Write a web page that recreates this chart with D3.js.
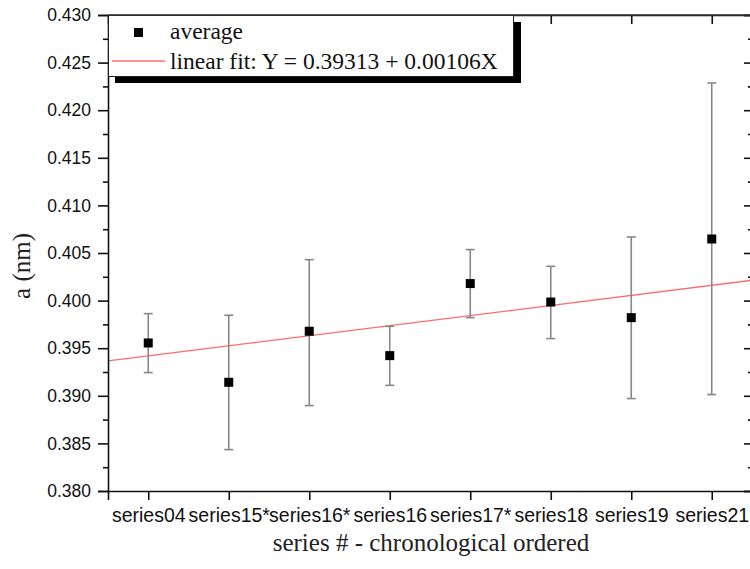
<!DOCTYPE html>
<html>
<head>
<meta charset="utf-8">
<script src="https://cdn.jsdelivr.net/npm/d3@7"></script>
<style>
  html, body { margin: 0; padding: 0; background: #fff; }
  svg { display: block; }
</style>
</head>
<body>
<svg id="chart" width="750" height="569"></svg>
<script>
// ---- data ----
const categories = ["series04", "series15*", "series16*", "series16", "series17*", "series18", "series19", "series21"];
const averages   = [0.39555, 0.39142, 0.39678, 0.39422, 0.40179, 0.39985, 0.39821, 0.40647];
const errUpper   = [0.39863, 0.39846, 0.40430, 0.39730, 0.40536, 0.40360, 0.40668, 0.42286];
const errLower   = [0.39244, 0.38435, 0.38897, 0.39110, 0.39821, 0.39601, 0.38971, 0.39013];
const fitIntercept = [0.39313];
const fitSlope     = [0.00106];
const yTicks = [0.380, 0.385, 0.390, 0.395, 0.400, 0.405, 0.410, 0.415, 0.420, 0.425, 0.430];
const yMinorTicks = [0.3825, 0.3875, 0.3925, 0.3975, 0.4025, 0.4075, 0.4125, 0.4175, 0.4225, 0.4275];
const legendLabels = ["average", "linear fit: Y = 0.39313 + 0.00106X"];

// ---- layout ----
const L = 108, R = 752, T = 15, B = 491;
const SANS = "'Liberation Sans', Arial, sans-serif";
const SERIF = "'Liberation Serif', 'Times New Roman', serif";
const svg = d3.select("#chart");

const x = d3.scaleLinear().domain([0.5, 8.5]).range([L, R]);
const y = d3.scaleLinear().domain([0.380, 0.430]).range([B, T]);
const idx = categories.map((c, i) => i + 1);

// fit line
const fitX = [0.5, 8.5];
svg.append("line")
  .attr("x1", x(fitX[0])).attr("y1", y(fitIntercept[0] + fitSlope[0] * fitX[0]))
  .attr("x2", x(fitX[1])).attr("y2", y(fitIntercept[0] + fitSlope[0] * fitX[1]))
  .attr("stroke", "#ff6b6b").attr("stroke-width", 1.3);

// error bars
const eb = svg.append("g").attr("stroke", "#888").attr("stroke-width", 1.6).attr("fill", "none");
idx.forEach((k, i) => {
  eb.append("line").attr("x1", x(k)).attr("x2", x(k)).attr("y1", y(errUpper[i])).attr("y2", y(errLower[i]));
  eb.append("line").attr("x1", x(k) - 4.5).attr("x2", x(k) + 4.5).attr("y1", y(errUpper[i])).attr("y2", y(errUpper[i]));
  eb.append("line").attr("x1", x(k) - 4.5).attr("x2", x(k) + 4.5).attr("y1", y(errLower[i])).attr("y2", y(errLower[i]));
});

// markers
svg.append("g").selectAll("rect").data(averages).join("rect")
  .attr("x", (d, i) => x(idx[i]) - 4.5).attr("y", d => y(d) - 4.5)
  .attr("width", 9).attr("height", 9).attr("fill", "#000");

// ---- axes ----
const yMajorFmt = d3.format(".3f");
const leftAxis = svg.append("g").attr("transform", `translate(${L},0)`)
  .call(d3.axisLeft(y).tickValues(yTicks).tickFormat(yMajorFmt).tickSize(10).tickPadding(7));
const leftMinor = svg.append("g").attr("transform", `translate(${L},0)`)
  .call(d3.axisLeft(y).tickValues(yMinorTicks).tickFormat("").tickSize(5));
const rightAxis = svg.append("g").attr("transform", `translate(${R},0)`)
  .call(d3.axisLeft(y).tickValues(yTicks).tickFormat("").tickSize(8));
const rightMinor = svg.append("g").attr("transform", `translate(${R},0)`)
  .call(d3.axisLeft(y).tickValues(yMinorTicks).tickFormat("").tickSize(4));
const bottomAxis = svg.append("g").attr("transform", `translate(0,${B})`)
  .call(d3.axisBottom(x).tickValues(idx).tickFormat((d) => categories[d - 1]).tickSize(9).tickPadding(8));
const topAxis = svg.append("g").attr("transform", `translate(0,${T})`)
  .call(d3.axisBottom(x).tickValues(idx).tickFormat("").tickSize(9));

[leftAxis, leftMinor, rightAxis, rightMinor, bottomAxis, topAxis].forEach(g => {
  g.attr("font-family", SANS);
  g.select(".domain").attr("stroke", "#111").attr("stroke-width", 1.6);
  g.selectAll(".tick line").attr("stroke", "#111").attr("stroke-width", 1.6);
});
[leftMinor, rightMinor].forEach(g => g.select(".domain").remove());
leftAxis.selectAll("text").style("font-family", SANS)
  .style("font-size", "17.5px").attr("fill", "#111");
bottomAxis.selectAll("text").style("font-family", SANS)
  .style("font-size", "19.5px").attr("fill", "#111");

// axis titles
svg.append("text")
  .attr("x", (270 + 592) / 2).attr("y", 551)
  .attr("text-anchor", "middle")
  .style("font-family", SERIF)
  .style("font-size", "25px").attr("fill", "#222")
  .text("series # - chronological ordered");
svg.append("text")
  .attr("transform", "translate(30,266) rotate(-90)")
  .attr("text-anchor", "middle")
  .style("font-family", SERIF)
  .style("font-size", "25px").attr("fill", "#222")
  .text("a (nm)");

// ---- legend ----
const lg = svg.append("g");
lg.append("rect").attr("x", 115).attr("y", 22).attr("width", 406).attr("height", 61).attr("fill", "#000");
lg.append("rect").attr("x", 108.5).attr("y", 15.5).attr("width", 405).attr("height", 61)
  .attr("fill", "#fff").attr("stroke", "#222").attr("stroke-width", 1);
lg.append("rect").attr("x", 134).attr("y", 28).attr("width", 9).attr("height", 9).attr("fill", "#000");
lg.append("line").attr("x1", 112).attr("x2", 165).attr("y1", 61).attr("y2", 61)
  .attr("stroke", "#ff6b6b").attr("stroke-width", 1.3);
lg.selectAll("text").data(legendLabels).join("text")
  .attr("x", 170).attr("y", (d, i) => i === 0 ? 39 : 69)
  .style("font-family", SERIF)
  .style("font-size", "23.5px").attr("fill", "#111")
  .text(d => d);
svg.append("line").attr("x1", L).attr("x2", R).attr("y1", T).attr("y2", T)
  .attr("stroke", "#333").attr("stroke-width", 1.6);
</script>
</body>
</html>
